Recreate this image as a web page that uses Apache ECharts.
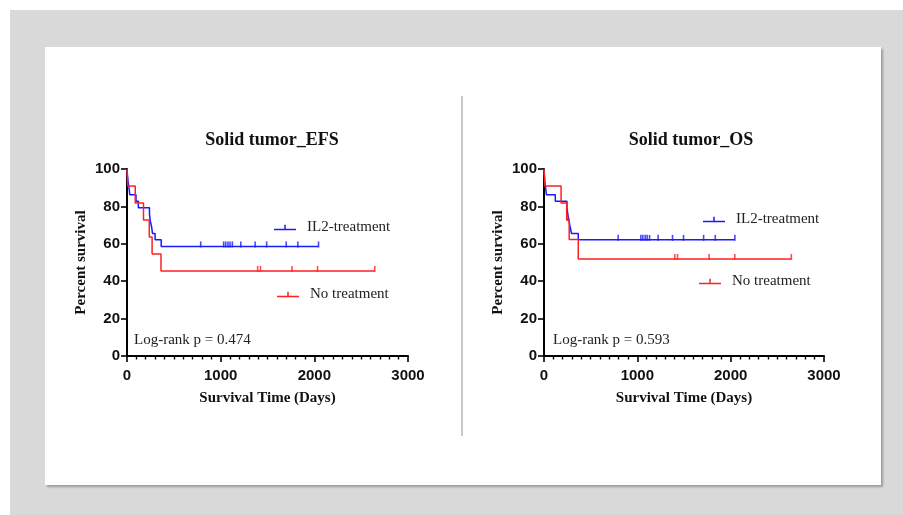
<!DOCTYPE html>
<html>
<head>
<meta charset="utf-8">
<script src="https://cdn.jsdelivr.net/npm/echarts@6/dist/echarts.min.js"></script>
<style>
html,body{margin:0;padding:0;width:903px;height:515px;background:#fff;overflow:hidden;}
#bg{position:absolute;left:10px;top:10px;width:893px;height:505px;background:#d9d9d9;}
#panel{position:absolute;left:45px;top:47px;width:836px;height:438px;background:#fff;box-shadow:2px 2px 2px rgba(0,0,0,0.28);}
#divider{position:absolute;left:461px;top:96px;width:2px;height:340px;background:#c8c8c8;}
#chart{position:absolute;left:0;top:0;width:903px;height:515px;}
</style>
</head>
<body>
<div id="bg"></div>
<div id="panel"></div>
<div id="divider"></div>
<div id="chart"></div>
<script>
// ---- Data ----
const chartTitles = ['Solid tumor_EFS', 'Solid tumor_OS'];
const pValueTexts = ['Log-rank p = 0.474', 'Log-rank p = 0.593'];
const groupNames = ['IL2-treatment', 'No treatment'];
const xTicks = [0, 1000, 2000, 3000];
const yTicks = [0, 20, 40, 60, 80, 100];

// EFS - IL2-treatment (step times / survival %)
const efsIL2Time = [0, 5, 12, 22, 30, 96, 121, 240, 248, 263, 272, 300, 365, 2045];
const efsIL2Surv = [100, 96.6, 93.1, 89.7, 86.2, 82.8, 79.3, 75.9, 72.4, 69.0, 65.5, 62.1, 58.6, 58.6];
const efsIL2CensTime = [787, 1032, 1054, 1078, 1100, 1125, 1215, 1368, 1491, 1700, 1824, 2045];
const efsIL2CensSurv = [58.6, 58.6, 58.6, 58.6, 58.6, 58.6, 58.6, 58.6, 58.6, 58.6, 58.6, 58.6];

// EFS - No treatment
const efsNoTime = [0, 8, 88, 176, 238, 268, 363, 2645];
const efsNoSurv = [100, 90.9, 81.8, 72.7, 63.6, 54.5, 45.5, 45.5];
const efsNoCensTime = [1395, 1425, 1762, 2034, 2645];
const efsNoCensSurv = [45.5, 45.5, 45.5, 45.5, 45.5];

// OS - IL2-treatment
const osIL2Time = [0, 4, 9, 18, 26, 121, 246, 255, 268, 280, 295, 367, 2045];
const osIL2Surv = [100, 96.6, 93.1, 89.7, 86.2, 82.8, 79.3, 75.9, 72.4, 69.0, 65.5, 62.1, 62.1];
const osIL2CensTime = [795, 1038, 1059, 1084, 1105, 1131, 1223, 1377, 1495, 1710, 1835, 2045];
const osIL2CensSurv = [62.1, 62.1, 62.1, 62.1, 62.1, 62.1, 62.1, 62.1, 62.1, 62.1, 62.1, 62.1];

// OS - No treatment
const osNoTime = [0, 10, 183, 243, 270, 367, 2650];
const osNoSurv = [100, 90.9, 81.8, 72.7, 62.3, 51.9, 51.9];
const osNoCensTime = [255, 1402, 1431, 1769, 2044, 2650];
const osNoCensSurv = [72.7, 51.9, 51.9, 51.9, 51.9, 51.9];

// ---- Styles ----
const BLUE = '#1a1aff';
const RED = '#ff2020';
const SANS = '"Liberation Sans", Arial, sans-serif';
const SERIF = '"Liberation Serif", "Times New Roman", serif';
const legendIcon = 'path://M0,4h22v1.5h-22z M10.25,0h1.5v4h-1.5z';

function pairs(t, s) { return t.map((x, i) => [x, s[i]]); }

const grids = [
  {left: 127, top: 169, width: 281, height: 187},
  {left: 544, top: 169, width: 280, height: 187}
];

function xAxisFor(i) {
  return {
    gridIndex: i, type: 'value', min: xTicks[0], max: xTicks[xTicks.length - 1], interval: 1000,
    name: 'Survival Time (Days)', nameLocation: 'middle', nameGap: 35,
    nameTextStyle: {fontFamily: SERIF, fontWeight: 'bold', fontSize: 15, color: '#111'},
    axisLine: {show: true, onZero: false, lineStyle: {color: '#000', width: 2}},
    axisTick: {show: true, length: 6, lineStyle: {color: '#000', width: 1.6}},
    minorTick: {show: true, splitNumber: 10, length: 3.5, lineStyle: {color: '#000', width: 1.4}},
    axisLabel: {fontFamily: SANS, fontWeight: 'bold', fontSize: 15, color: '#111', margin: 12,
                formatter: v => String(v)},
    splitLine: {show: false}
  };
}
function yAxisFor(i) {
  return {
    gridIndex: i, type: 'value', min: yTicks[0], max: yTicks[yTicks.length - 1], interval: 20,
    name: 'Percent survival', nameLocation: 'middle', nameGap: 38, nameRotate: 90,
    nameTextStyle: {fontFamily: SERIF, fontWeight: 'bold', fontSize: 15, color: '#111'},
    axisLine: {show: true, onZero: false, lineStyle: {color: '#000', width: 2}},
    axisTick: {show: true, length: 6, lineStyle: {color: '#000', width: 1.6}},
    axisLabel: {fontFamily: SANS, fontWeight: 'bold', fontSize: 15, color: '#111', margin: 7,
                formatter: v => String(v)},
    splitLine: {show: false}
  };
}

function stepSeries(name, i, t, s, color) {
  return {
    name: name, type: 'line', step: 'end', xAxisIndex: i, yAxisIndex: i,
    data: pairs(t, s), showSymbol: false, symbol: 'none',
    lineStyle: {color: color, width: 1.5}, itemStyle: {color: color},
    silent: true, animation: false, z: 3
  };
}
function censSeries(i, t, s, color) {
  return {
    type: 'scatter', xAxisIndex: i, yAxisIndex: i, data: pairs(t, s),
    symbol: 'rect', symbolSize: [1.6, 6], symbolOffset: [0, -2],
    itemStyle: {color: color}, silent: true, animation: false, z: 4
  };
}

function legendAt(name, left, top) {
  return {
    data: [name], left: left, top: top, icon: legendIcon, itemWidth: 22, itemHeight: 5.5,
    textStyle: {fontFamily: SERIF, fontSize: 15, color: '#222', padding: [0, 0, 0, 6]},
    selectedMode: false
  };
}

const chart = echarts.init(document.getElementById('chart'), null, {renderer: 'canvas'});
chart.setOption({
  backgroundColor: 'transparent',
  animation: false,
  title: [
    {text: chartTitles[0], left: 267, top: 126, textAlign: 'center',
     textStyle: {fontFamily: SERIF, fontWeight: 'bold', fontSize: 18, color: '#111'}},
    {text: chartTitles[1], left: 686, top: 126, textAlign: 'center',
     textStyle: {fontFamily: SERIF, fontWeight: 'bold', fontSize: 18, color: '#111'}}
  ],
  legend: [
    legendAt(groupNames[0], 269, 215),
    legendAt(groupNames[1], 272, 282),
    legendAt(groupNames[0], 698, 207),
    legendAt(groupNames[1], 694, 269)
  ],
  grid: grids,
  xAxis: [xAxisFor(0), xAxisFor(1)],
  yAxis: [yAxisFor(0), yAxisFor(1)],
  graphic: [
    {type: 'text', left: 134, top: 333, style: {text: pValueTexts[0], font: '15px "Liberation Serif"', fill: '#222'}},
    {type: 'text', left: 553, top: 333, style: {text: pValueTexts[1], font: '15px "Liberation Serif"', fill: '#222'}}
  ],
  series: [
    stepSeries(groupNames[0], 0, efsIL2Time, efsIL2Surv, BLUE),
    censSeries(0, efsIL2CensTime, efsIL2CensSurv, BLUE),
    stepSeries(groupNames[1], 0, efsNoTime, efsNoSurv, RED),
    censSeries(0, efsNoCensTime, efsNoCensSurv, RED),
    stepSeries(groupNames[0], 1, osIL2Time, osIL2Surv, BLUE),
    censSeries(1, osIL2CensTime, osIL2CensSurv, BLUE),
    stepSeries(groupNames[1], 1, osNoTime, osNoSurv, RED),
    censSeries(1, osNoCensTime, osNoCensSurv, RED)
  ]
});
</script>
</body>
</html>
